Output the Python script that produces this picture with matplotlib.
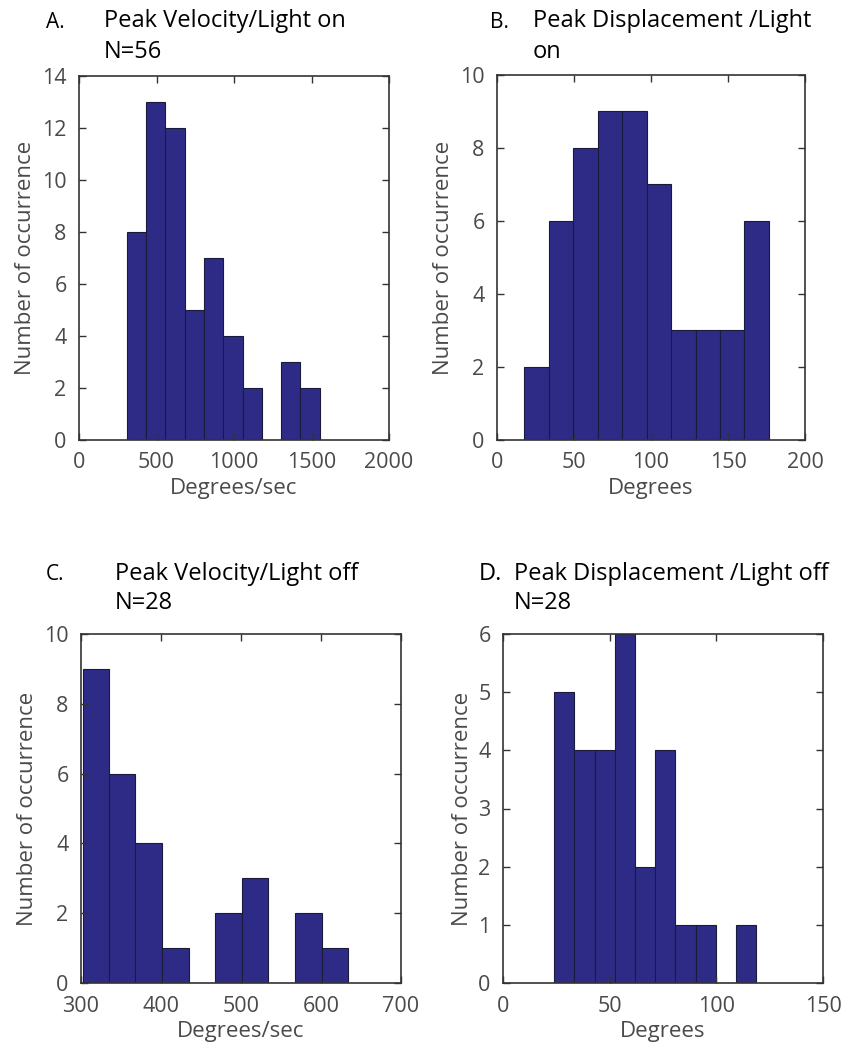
import matplotlib
matplotlib.use("Agg")

import numpy as np
import matplotlib.pyplot as plt

# ------------------ DATA ------------------

# A. Peak velocity / light on (N=56)
vel_on_edges = [307, 432, 556, 681, 806, 930, 1055, 1180, 1305, 1429, 1554]
vel_on_counts = [8, 13, 12, 5, 7, 4, 2, 0, 3, 2]

# B. Peak displacement / light on
disp_on_edges = [17.7, 33.6, 49.5, 65.4, 81.3, 97.2, 113.0, 128.9, 144.8, 160.7, 176.6]
disp_on_counts = [2, 6, 8, 9, 9, 7, 3, 3, 3, 6]

# C. Peak velocity / light off (N=28)
vel_off_edges = [302, 335, 368, 401, 435, 468, 501, 534, 567, 601, 634]
vel_off_counts = [9, 6, 4, 1, 0, 2, 3, 0, 2, 1]

# D. Peak displacement / light off (N=28)
disp_off_edges = [23.9, 33.4, 42.9, 52.4, 61.9, 71.4, 80.8, 90.3, 99.8, 109.3, 118.8]
disp_off_counts = [5, 4, 4, 6, 2, 4, 1, 1, 0, 1]

# ------------------ STYLE ------------------

plt.rcParams["font.family"] = ["Open Sans", "DejaVu Sans"]

W, H = 842, 1057
BAR_COLOR = "#2e2b86"
TICK_GRAY = "#4a4a4a"


def px_axes(fig, left, top, right, bottom):
    # pixel box -> figure fraction
    return fig.add_axes([left / W, 1 - bottom / H, (right - left) / W, (bottom - top) / H])


def draw_hist(ax, edges, counts, xlim, xticks, ylim, yticks, xlabel):
    edges = np.array(edges)
    ax.bar(edges[:-1], counts, width=np.diff(edges), align="edge",
           color=BAR_COLOR, edgecolor="#1a1a3a", linewidth=0.8)
    ax.set_xlim(*xlim)
    ax.set_ylim(*ylim)
    ax.set_xticks(xticks)
    ax.set_yticks(yticks)
    ax.tick_params(direction="in", length=5, width=1.0, top=True, right=True,
                   labelsize=15.5, labelcolor=TICK_GRAY, color="#333333")
    ax.tick_params(axis="x", pad=9)
    ax.tick_params(axis="y", pad=9)
    for sp in ax.spines.values():
        sp.set_color("#333333")
        sp.set_linewidth(1.2)
    ax.set_xlabel(xlabel, fontsize=16, color=TICK_GRAY, labelpad=3)
    ax.set_ylabel("Number of occurrence", fontsize=16, color=TICK_GRAY, labelpad=4)


fig = plt.figure(figsize=(W / 100, H / 100), dpi=100)

axA = px_axes(fig, 79, 76, 389, 440)
draw_hist(axA, vel_on_edges, vel_on_counts, (0, 2000), [0, 500, 1000, 1500, 2000],
          (0, 14), range(0, 15, 2), "Degrees/sec")

axB = px_axes(fig, 497, 75, 805, 440)
draw_hist(axB, disp_on_edges, disp_on_counts, (0, 200), [0, 50, 100, 150, 200],
          (0, 10), range(0, 11, 2), "Degrees")

axC = px_axes(fig, 81, 634, 401, 983)
draw_hist(axC, vel_off_edges, vel_off_counts, (300, 700), [300, 400, 500, 600, 700],
          (0, 10), range(0, 11, 2), "Degrees/sec")

axD = px_axes(fig, 503, 634, 823, 983)
draw_hist(axD, disp_off_edges, disp_off_counts, (0, 150), [0, 50, 100, 150],
          (0, 6), range(0, 7), "Degrees")

# ------------------ PANEL TITLES ------------------

def fig_text(x, y, s, size=17):
    fig.text(x / W, 1 - y / H, s, fontsize=size, color="black", ha="left", va="center")

fig_text(46, 22, "A.", 15)
fig_text(104, 21, "Peak Velocity/Light on")
fig_text(104, 52, "N=56")

fig_text(490, 22, "B.", 15)
fig_text(533, 21, "Peak Displacement /Light")
fig_text(533, 52, "on")

fig_text(46, 574, "C.", 15)
fig_text(115, 574, "Peak Velocity/Light off")
fig_text(115, 603, "N=28")

fig_text(479, 574, "D.", 17)
fig_text(514, 574, "Peak Displacement /Light off")
fig_text(514, 603, "N=28")

fig.savefig("out.png", dpi=100)
plt.close(fig)
